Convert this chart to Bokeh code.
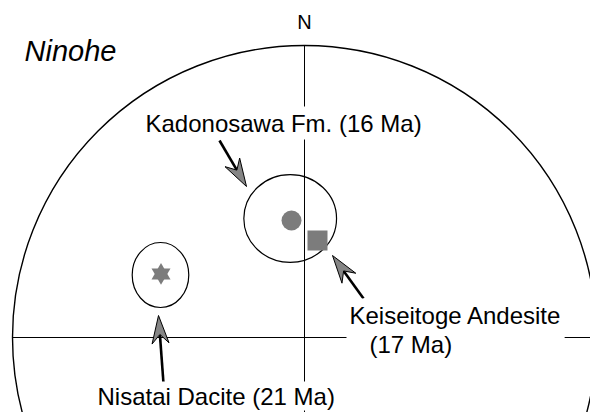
import numpy as np
from bokeh.plotting import figure
from bokeh.models import Range1d, Label
from bokeh.embed import file_html
from bokeh.resources import INLINE

# ---------------- data (equal-area net, unit = primitive radius) ----------------
sites = ["Kadonosawa Fm.", "Keiseitoge Andesite", "Nisatai Dacite"]
ages_ma = [16, 17, 21]
mean_east = [-0.0445, 0.0445, -0.4914]
mean_north = [0.4007, 0.3322, 0.2178]

# confidence ovals (Kadonosawa Fm., Nisatai Dacite)
oval_east = [-0.0490, -0.4932]
oval_north = [0.4075, 0.2140]
oval_width = [0.3175, 0.1938]
oval_height = [0.3003, 0.2226]

region = "Ninohe"

# ---------------- layout ----------------
W, H = 590, 412
CX, CY, R = 304.0, 337.0, 292.0   # net centre / radius in figure pixels


def dx(px):  # figure pixel -> data x
    return (px - CX) / R


def dy(py):  # figure pixel -> data y
    return (CY - py) / R


p = figure(width=W, height=H,
           x_range=Range1d(-CX / R, (W - CX) / R),
           y_range=Range1d(-(H - CY) / R, CY / R),
           output_backend="svg", toolbar_location=None,
           x_axis_location=None, y_axis_location=None, min_border=0)
p.grid.visible = False
p.outline_line_color = None
p.background_fill_color = "white"
p.border_fill_color = "white"

# primitive circle and N-S / E-W axes
p.circle(x=[0], y=[0], radius=1.0, fill_color=None, line_color="black", line_width=1.4)
p.segment(x0=[-1.0, 0.0], y0=[0.0, -1.0], x1=[1.0, 0.0], y1=[0.0, 1.0],
          line_color="black", line_width=1.0)

# confidence ovals
p.ellipse(x=oval_east, y=oval_north, width=oval_width, height=oval_height,
          fill_color=None, line_color="black", line_width=1.2)

GREY = "#7c7c7c"
# Kadonosawa: circle, Keiseitoge: square, Nisatai: six-pointed star
p.scatter(x=[mean_east[0]], y=[mean_north[0]], marker="circle", size=20,
          fill_color=GREY, line_color=None)
p.scatter(x=[mean_east[1]], y=[mean_north[1]], marker="square", size=20,
          fill_color=GREY, line_color=None)
p.scatter(x=[mean_east[2]], y=[mean_north[2]], marker="triangle", size=19,
          fill_color=GREY, line_color=None)
p.scatter(x=[mean_east[2]], y=[mean_north[2]], marker="inverted_triangle", size=19,
          fill_color=GREY, line_color=None)

# arrows (tail, tip) in figure pixels
arrows = [((219, 140), (246, 186)),
          ((363, 298), (332, 255)),
          ((163, 383), (158, 315))]
HL, HW, NOTCH = 28.0, 17.0, 9.0
sx0, sy0, sx1, sy1, hx, hy = [], [], [], [], [], []
for (tx, ty), (ax, ay) in arrows:
    u = np.array([ax - tx, ay - ty], float)
    u /= np.hypot(*u)
    n = np.array([-u[1], u[0]])
    tip = np.array([ax, ay], float)
    base = tip - HL * u
    c1 = base + HW / 2 * n
    c2 = base - HW / 2 * n
    notch = tip - (HL - NOTCH) * u
    sx0.append(dx(tx)); sy0.append(dy(ty)); sx1.append(dx(notch[0])); sy1.append(dy(notch[1]))
    pts = [tip, c1, notch, c2]
    hx.append([dx(q[0]) for q in pts]); hy.append([dy(q[1]) for q in pts])
p.segment(x0=sx0, y0=sy0, x1=sx1, y1=sy1, line_color="black", line_width=2.6)
p.patches(xs=hx, ys=hy, fill_color="#858585", line_color="black", line_width=1.0)

FONT = "Liberation Sans"
INK = "black"
p.add_layout(Label(x=dx(304), y=dy(10), text="N", text_align="center", text_color=INK,
                   text_baseline="top", text_font=FONT, text_font_size="20px"))
p.add_layout(Label(x=dx(24), y=dy(34), text=region, text_align="left", text_color=INK,
                   text_baseline="top", text_font=FONT, text_font_style="italic",
                   text_font_size="29px"))

lab = [f"{s} ({a} Ma)" for s, a in zip(sites, ages_ma)]
NB = "\u00a0"
p.add_layout(Label(x=dx(142), y=dy(106), text=lab[0], text_align="left", text_color=INK,
                   text_baseline="top", text_font=FONT, text_font_size="24px",
                   background_fill_color="white", padding=3))
p.add_layout(Label(x=dx(346), y=dy(298), text=f"{sites[1]}\n{NB * 3}({ages_ma[1]} Ma)",
                   text_align="left", text_baseline="top", text_line_height=1.1,
                   text_color=INK, text_font=FONT, text_font_size="24px",
                   background_fill_color="white", padding=3))
p.add_layout(Label(x=dx(96), y=dy(381), text=lab[2], text_align="left", text_color=INK,
                   text_baseline="top", text_font=FONT, text_font_size="24px",
                   background_fill_color="white", padding=1))

open("out.html", "w").write(file_html(p, INLINE))
